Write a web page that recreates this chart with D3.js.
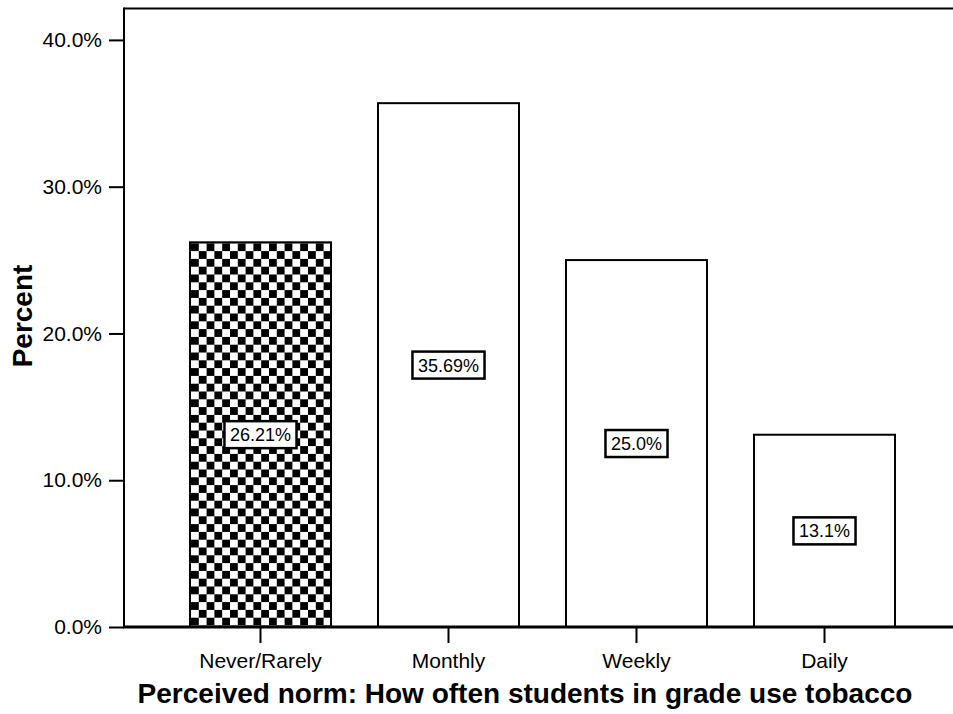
<!DOCTYPE html>
<html><head><meta charset="utf-8">
<script src="https://cdn.jsdelivr.net/npm/d3@7"></script>
<style>body{margin:0;background:#fff}svg{display:block;font-family:"Liberation Sans",Arial,sans-serif}</style>
</head><body>
<div id="chart"></div>
<script>
const categories = ["Never/Rarely", "Monthly", "Weekly", "Daily"];
const values = [26.21, 35.69, 25.0, 13.1];
const valueLabels = ["26.21%", "35.69%", "25.0%", "13.1%"];
const yTicks = [0, 10, 20, 30, 40];
const patterned = [true, false, false, false];

const W = 953, H = 714;
const FONT = "Liberation Sans, Arial, sans-serif";
const svg = d3.select("#chart").append("svg").attr("width", W).attr("height", H);

const x = d3.scaleBand().domain(categories).range([124, 961]).paddingInner(0.25).paddingOuter(0.351);
const y = d3.scaleLinear().domain([0, 42.14]).range([627, 8.5]);

const defs = svg.append("defs");
const cell = 7.8;
const pat = defs.append("pattern").attr("id", "checker").attr("patternUnits", "userSpaceOnUse")
  .attr("width", cell * 2).attr("height", cell * 2)
  .attr("x", x(categories[0]) + 1).attr("y", y(values[0]) + 1);
pat.append("rect").attr("width", cell * 2).attr("height", cell * 2).attr("fill", "#fff");
pat.append("rect").attr("width", cell).attr("height", cell).attr("fill", "#000");
pat.append("rect").attr("x", cell).attr("y", cell).attr("width", cell).attr("height", cell).attr("fill", "#000");

// top frame line
svg.append("line").attr("x1", 124).attr("x2", W).attr("y1", y(42.14)).attr("y2", y(42.14))
  .attr("stroke", "#000").attr("stroke-width", 2);

// bars
svg.selectAll("rect.bar").data(categories).enter().append("rect").attr("class", "bar")
  .attr("x", d => x(d)).attr("width", x.bandwidth())
  .attr("y", (d, i) => y(values[i])).attr("height", (d, i) => y(0) - y(values[i]))
  .attr("fill", (d, i) => patterned[i] ? "url(#checker)" : "#fff")
  .attr("stroke", "#000").attr("stroke-width", 2);

// value labels
categories.forEach((c, i) => {
  const cx = x(c) + x.bandwidth() / 2;
  const cy = (y(values[i]) + y(0)) / 2;
  const g = svg.append("g");
  const t = g.append("text").attr("x", cx).attr("y", cy + 6.5).attr("text-anchor", "middle")
    .attr("font-size", 18).attr("font-family", FONT).text(valueLabels[i]);
  const bb = t.node().getBBox();
  g.insert("rect", "text").attr("x", bb.x - 5.5).attr("y", cy - 13.5).attr("width", bb.width + 11)
    .attr("height", 27).attr("fill", "#fff").attr("stroke", "#000").attr("stroke-width", 2.5);
});

// y axis
const yAxis = svg.append("g").attr("transform", "translate(124,0)")
  .call(d3.axisLeft(y).tickValues(yTicks).tickSize(15).tickPadding(7).tickFormat(d => d.toFixed(1) + "%"));
yAxis.select(".domain").remove();
yAxis.selectAll(".tick line").attr("stroke-width", 2);
yAxis.selectAll("text").attr("font-size", 21).attr("fill", "#000").attr("font-family", FONT);
svg.append("line").attr("x1", 124).attr("x2", 124).attr("y1", y(42.14) - 1).attr("y2", 628)
  .attr("stroke", "#000").attr("stroke-width", 2);

// x axis
const xAxis = svg.append("g").attr("transform", "translate(0,627)")
  .call(d3.axisBottom(x).tickSize(16).tickPadding(10));
xAxis.select(".domain").remove();
xAxis.selectAll(".tick line").attr("stroke-width", 2);
xAxis.selectAll("text").attr("font-size", 21).attr("fill", "#000").attr("font-family", FONT);
svg.append("line").attr("x1", 123).attr("x2", W).attr("y1", 627).attr("y2", 627)
  .attr("stroke", "#000").attr("stroke-width", 3);

// titles
svg.append("text").attr("x", 525).attr("y", 703).attr("text-anchor", "middle")
  .attr("font-size", 28).attr("font-weight", "bold").attr("font-family", FONT)
  .text("Perceived norm: How often students in grade use tobacco");
svg.append("text").attr("transform", "translate(32,316) rotate(-90)").attr("text-anchor", "middle")
  .attr("font-size", 28).attr("font-weight", "bold").attr("font-family", FONT).text("Percent");
</script>
</body></html>
